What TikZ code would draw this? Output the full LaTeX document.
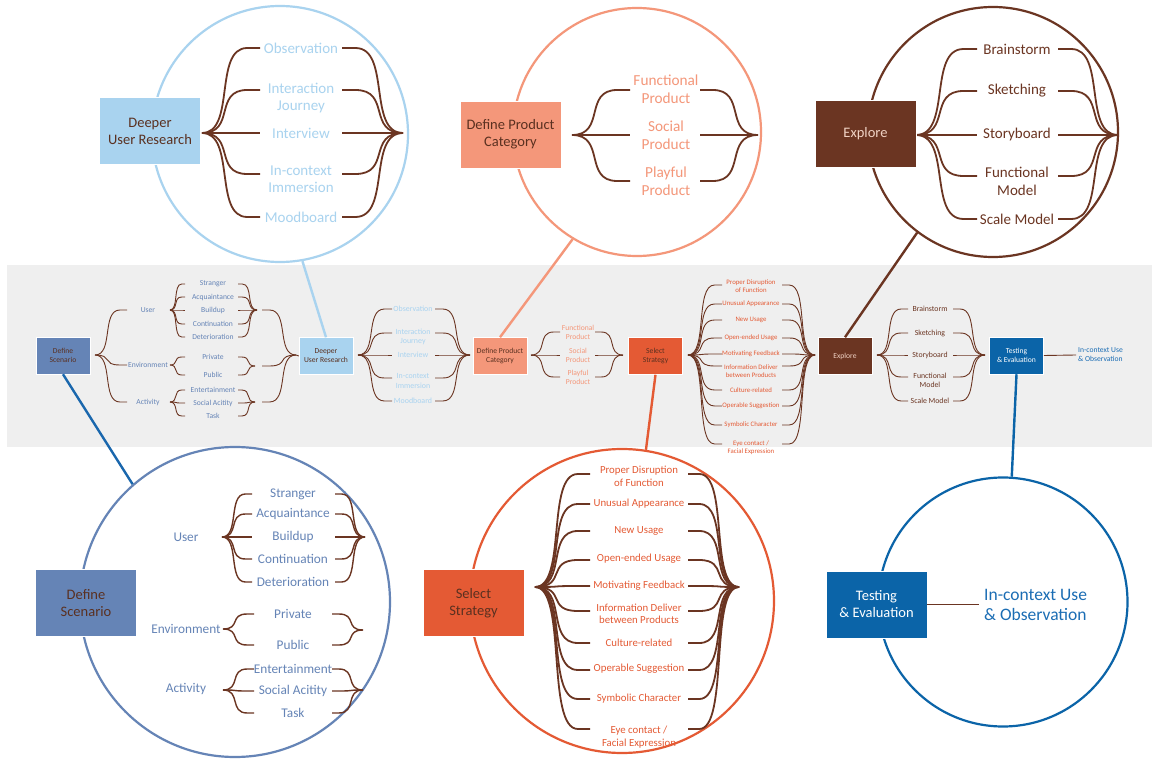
\documentclass[tikz,border=0pt]{standalone}
\usepackage{fontspec}
\setmainfont{Carlito}
\definecolor{scen}{HTML}{6584B6}
\definecolor{deep}{HTML}{A9D3EF}
\definecolor{prod}{HTML}{F4977A}
\definecolor{strat}{HTML}{E45A34}
\definecolor{expl}{HTML}{6B3522}
\definecolor{test}{HTML}{0B64A8}
\definecolor{linkblue}{HTML}{1A67AD}
\definecolor{band}{HTML}{EFEFEF}
\definecolor{ink}{HTML}{5A3020}
\definecolor{expltext}{HTML}{F0D2C4}
\definecolor{obs}{HTML}{1B6DB4}

\newcommand\fsz[2]{\fontsize{#1}{#2}\selectfont}

% left half of a curly brace: one tip fanning out to several branch ends
% #1 prefix, #2 tip x, #3 tip y, #4 end x, #5 branch ys, #6 style
\newcommand\fanL[6]{%
  \coordinate (#1-in) at (#2,#3);
  \pgfmathsetmacro\fanw{0.78*(#4-(#2))}
  \foreach \yb [count=\k] in {#5} {
    \coordinate (#1-l\k) at (#4,\yb);
    \draw[#6] (#1-in) .. controls ({#2+0.75*\fanw},#3) and ({#2+0.25*\fanw},\yb)
      .. ({#2+\fanw},\yb) -- (#1-l\k);
  }}
% right half of a curly brace: several branch starts closing into one tip
% #1 prefix, #2 start x, #3 tip x, #4 tip y, #5 branch ys, #6 style
\newcommand\fanR[6]{%
  \coordinate (#1-out) at (#3,#4);
  \pgfmathsetmacro\fanw{0.78*(#3-(#2))}
  \foreach \yb [count=\k] in {#5} {
    \coordinate (#1-r\k) at (#2,\yb);
    \draw[#6] (#1-r\k) -- ({#3-\fanw},\yb)
      .. controls ({#3-0.25*\fanw},\yb) and ({#3-0.75*\fanw},#4) .. (#1-out);
  }}

\begin{document}
\begin{tikzpicture}[x=1pt,y=-1pt,
  bthick/.style={draw=expl, line width=1.8},
  bmid/.style={draw=expl, line width=1.4},
  bthin/.style={draw=expl, line width=0.9},
  ring/.style={circle, draw, line width=2.2, inner sep=0},
  bigbox/.style={minimum width=101, minimum height=67, inner sep=0, align=center,
                 font=\fsz{14.5}{17}, draw=white, line width=0.6},
  smallbox/.style={minimum width=54, minimum height=37, inner sep=0, align=center,
                   font=\fsz{7.6}{9}, draw=white, line width=0.5},
  link/.style={line width=2.4},
  lab/.style={inner sep=0, align=center},
  lDeep/.style={lab, text=deep, font=\fsz{15}{17}},
  lProd/.style={lab, text=prod, font=\fsz{15.3}{18}},
  lExpl/.style={lab, text=expl, font=\fsz{15}{18}},
  lScen/.style={lab, text=scen, font=\fsz{13.3}{15}},
  lStrat/.style={lab, text=strat, font=\fsz{10.8}{12.5}},
  sScen/.style={lab, text=scen, font=\fsz{7.6}{9}},
  sDeep/.style={lab, text=deep, font=\fsz{7.9}{9.5}},
  sProd/.style={lab, text=prod, font=\fsz{7.6}{9}},
  sStrat/.style={lab, text=strat, font=\fsz{6.8}{8}},
  sExpl/.style={lab, text=expl, font=\fsz{7.8}{9}},
]
\useasboundingbox (0,0) rectangle (1152,759);
\fill[white] (0,0) rectangle (1152,759);
\fill[band] (7,265) rectangle (1152,447);

% ---------- detail circles ----------
\node[ring, draw=deep,  minimum size=256] (cDeep)  at (280,134) {};
\node[ring, draw=prod,  minimum size=248] (cProd)  at (637,132) {};
\node[ring, draw=expl,  minimum size=250] (cExpl)  at (993,132) {};
\node[ring, draw=scen,  minimum size=310] (cScen)  at (235,602) {};
\node[ring, draw=strat, minimum size=304] (cStrat) at (622,601) {};
\node[ring, draw=test,  minimum size=249] (cTest)  at (1003,602) {};

% ---------- Deeper User Research (detail) ----------
\fanL{dU}{202}{133}{260}{48,90,133,174,217}{bthick}
\fanR{dU}{342}{403}{133}{48,90,133,174,217}{bthick}
\node[lDeep] (dU1) at (301,48) {Observation};
\node[lDeep] (dU2) at (301,98.5) {Interaction\\Journey};
\node[lDeep] (dU3) at (301,133) {Interview};
\node[lDeep] (dU4) at (301,179.5) {In-context\\Immersion};
\node[lDeep] (dU5) at (301,217) {Moodboard};
\node[bigbox, fill=deep, text=ink] (Deep) at (150,131) {Deeper\\User Research};

% ---------- Define Product Category (detail) ----------
\fanL{dP}{572}{135}{630}{90,135,181}{bthick}
\fanR{dP}{700}{758}{135}{90,135,181}{bthick}
\node[lProd] (dP1) at (666,89.5) {Functional\\Product};
\node[lProd] (dP2) at (666,135) {Social\\Product};
\node[lProd] (dP3) at (666,181) {Playful\\Product};
\node[bigbox, fill=prod, text=ink] (Prod) at (510.5,134.5) {Define Product\\Category};

% ---------- Explore (detail) ----------
\fanL{dE}{916}{135}{977}{49,91,135,176,219}{bthick}
\fanR{dE}{1058}{1118}{135}{49,91,135,176,219}{bthick}
\node[lExpl] (dE1) at (1017,49) {Brainstorm};
\node[lExpl] (dE2) at (1017,91) {Sketching};
\node[lExpl] (dE3) at (1017,135) {Storyboard};
\node[lExpl] (dE4) at (1017,181) {Functional\\Model};
\node[lExpl] (dE5) at (1017,219) {Scale Model};
\node[bigbox, fill=expl, text=expltext] (Expl) at (865.5,134) {Explore};

% ---------- Define Scenario (detail) ----------
\node[lScen] (sUser) at (186,537) {User};
\node[lScen] (sEnv)  at (186,629) {Environment};
\node[lScen] (sAct)  at (186,689) {Activity};
\fanL{sU}{222}{537}{252}{494,514,537,559,582}{bmid}
\fanR{sU}{335}{365}{537}{494,514,537,559,582}{bmid}
\node[lScen] (sU1) at (293,494) {Stranger};
\node[lScen] (sU2) at (293,514) {Acquaintance};
\node[lScen] (sU3) at (293,537) {Buildup};
\node[lScen] (sU4) at (293,559) {Continuation};
\node[lScen] (sU5) at (293,582) {Deterioration};
\fanL{sE}{223}{629}{254}{614,645}{bmid}
\fanR{sE}{332}{363}{630}{614,645}{bmid}
\node[lScen] (sE1) at (293,614) {Private};
\node[lScen] (sE2) at (293,645) {Public};
\fanL{sA}{223}{690}{254}{669,691,713}{bmid}
\fanR{sA}{332}{363}{690}{669,691,713}{bmid}
\node[lScen] (sA1) at (293,669) {Entertainment};
\node[lScen] (sA2) at (293,691) {Social Acitity};
\node[lScen] (sA3) at (293,713) {Task};
\node[bigbox, fill=scen, text=ink] (Scen) at (86,603) {Define\\Scenario};

% ---------- Select Strategy (detail) ----------
\fanL{sS}{535}{587}{590}{474,504,531,560,586,611,643,670,699,729}{bthick}
\fanR{sS}{688}{739}{587}{474,504,531,560,586,611,643,670,699,729}{bthick}
\node[lStrat] (sS1)  at (639,476.5) {Proper Disruption\\of Function};
\node[lStrat] (sS2)  at (639,504) {Unusual Appearance};
\node[lStrat] (sS3)  at (639,531) {New Usage};
\node[lStrat] (sS4)  at (639,559) {Open-ended Usage};
\node[lStrat] (sS5)  at (639,586) {Motivating Feedback};
\node[lStrat] (sS6)  at (639,614) {Information Deliver\\between Products};
\node[lStrat] (sS7)  at (639,643) {Culture-related};
\node[lStrat] (sS8)  at (639,669) {Operable Suggestion};
\node[lStrat] (sS9)  at (639,699) {Symbolic Character};
\node[lStrat] (sS10) at (639,737) {Eye contact /\\Facial Expression};
\node[bigbox, fill=strat, text=ink] (Strat) at (473.5,603) {Select\\Strategy};

% ---------- Testing & Evaluation (detail) ----------
\node[bigbox, fill=test, text=white] (Test) at (876.5,604.5) {Testing\\\& Evaluation};
\node[lab, anchor=west, align=left, text=obs, font=\fsz{17.5}{20}] (Obs) at (984,605) {In-context Use\\\& Observation};
\coordinate (ObsIn) at (979,604.5);
\draw[bthick] (Test.east) -- (ObsIn);

% ---------- overview band ----------
\node[smallbox, fill=scen,  text=ink]      (bScen)  at (63,355.5)    {Define\\Scenario};
\node[smallbox, fill=deep,  text=ink]      (bDeep)  at (326,356)     {Deeper\\User Research};
\node[smallbox, fill=prod,  text=ink]      (bProd)  at (500,356)     {Define Product\\Category};
\node[smallbox, fill=strat, text=ink]      (bStrat) at (655.5,356)   {Select\\Strategy};
\node[smallbox, fill=expl,  text=expltext] (bExpl)  at (845,356)     {Explore};
\node[smallbox, fill=test,  text=white]    (bTest)  at (1016.5,355.5) {Testing\\\& Evaluation};

% scenario
\fanL{bS}{95}{355}{127}{310,365,402}{bthin}
\node[sScen] (bUser) at (148,310) {User};
\node[sScen] (bEnv)  at (148,365) {Environment};
\node[sScen] (bAct)  at (148,402) {Activity};
\fanL{bSU}{170}{310}{185}{284,297,310,324,337}{bthin}
\fanR{bSU}{238}{257}{310}{284,297,310,324,337}{bthin}
\node[sScen] (bU1) at (213,284) {Stranger};
\node[sScen] (bU2) at (213,297) {Acquaintance};
\node[sScen] (bU3) at (213,310) {Buildup};
\node[sScen] (bU4) at (213,324) {Continuation};
\node[sScen] (bU5) at (213,337) {Deterioration};
\fanL{bSE}{170}{365}{185}{357,375}{bthin}
\fanR{bSE}{238}{255}{366}{357,375}{bthin}
\node[sScen] (bE1) at (213,357) {Private};
\node[sScen] (bE2) at (213,375) {Public};
\fanL{bSA}{170}{402}{185}{390,403,416}{bthin}
\fanR{bSA}{238}{255}{402}{390,403,416}{bthin}
\node[sScen] (bA1) at (213,390) {Entertainment};
\node[sScen] (bA2) at (213,403) {Social Acitity};
\node[sScen] (bA3) at (213,416) {Task};
\fanR{bSX}{262}{296}{355}{310,366,402}{bthin}
\draw[bthin] (bSX-out) -- (bDeep.west);

% deeper user research
\fanL{bD}{358}{355}{392}{309,333,355,378,401}{bthin}
\fanR{bD}{435}{470}{355}{309,333,355,378,401}{bthin}
\node[sDeep] (bD1) at (413,309) {Observation};
\node[sDeep] (bD2) at (413,337) {Interaction\\Journey};
\node[sDeep] (bD3) at (413,355) {Interview};
\node[sDeep] (bD4) at (413,381) {In-context\\Immersion};
\node[sDeep] (bD5) at (413,401) {Moodboard};

% product category
\fanL{bP}{531}{355}{560}{332,355,377}{bthin}
\fanR{bP}{595}{623}{355}{332,355,377}{bthin}
\node[sProd] (bP1) at (578,332.5) {Functional\\Product};
\node[sProd] (bP2) at (578,355.5) {Social\\Product};
\node[sProd] (bP3) at (578,377.5) {Playful\\Product};

% strategy
\fanL{bT}{688}{355}{722}{285,304,320,338,354,366,390,406,425,444}{bthin}
\fanR{bT}{782}{815}{355}{285,304,320,338,354,366,390,406,425,444}{bthin}
\node[sStrat] (bT1)  at (751,286) {Proper Disruption\\of Function};
\node[sStrat] (bT2)  at (751,304) {Unusual Appearance};
\node[sStrat] (bT3)  at (751,320) {New Usage};
\node[sStrat] (bT4)  at (751,338) {Open-ended Usage};
\node[sStrat] (bT5)  at (751,354) {Motivating Feedback};
\node[sStrat] (bT6)  at (751,371) {Information Deliver\\between Products};
\node[sStrat] (bT7)  at (751,390) {Culture-related};
\node[sStrat] (bT8)  at (751,406) {Operable Suggestion};
\node[sStrat] (bT9)  at (751,425) {Symbolic Character};
\node[sStrat] (bT10) at (751,448) {Eye contact /\\Facial Expression};

% explore
\fanL{bE}{877}{355}{908}{309,333,355,377,401}{bthin}
\fanR{bE}{953}{985}{355}{309,333,355,377,401}{bthin}
\node[sExpl] (bE1) at (930,309) {Brainstorm};
\node[sExpl] (bE2) at (930,333) {Sketching};
\node[sExpl] (bE3) at (930,355) {Storyboard};
\node[sExpl] (bE4) at (930,380.5) {Functional\\Model};
\node[sExpl] (bE5) at (930,401) {Scale Model};

% testing
\node[lab, anchor=west, align=left, text=obs, font=\fsz{7.6}{9}] (bObs) at (1078,355) {In-context Use\\\& Observation};
\coordinate (bObsIn) at (1076,355);
\draw[bthin] (bTest.east) -- (bObsIn);

% ---------- links from overview boxes to detail circles ----------
\draw[link, draw=linkblue] (bScen.south)  -- (cScen.131);
\draw[link, draw=deep]     (bDeep.north)  -- (cDeep.-80);
\draw[link, draw=prod]     (bProd.north)  -- (cProd.-121);
\draw[link, draw=strat]    (bStrat.south) -- (cStrat.81);
\draw[link, draw=expl]     (bExpl.north)  -- (cExpl.-127);
\draw[link, draw=test]     (bTest.south)  -- (cTest.86);
\end{tikzpicture}
\end{document}
